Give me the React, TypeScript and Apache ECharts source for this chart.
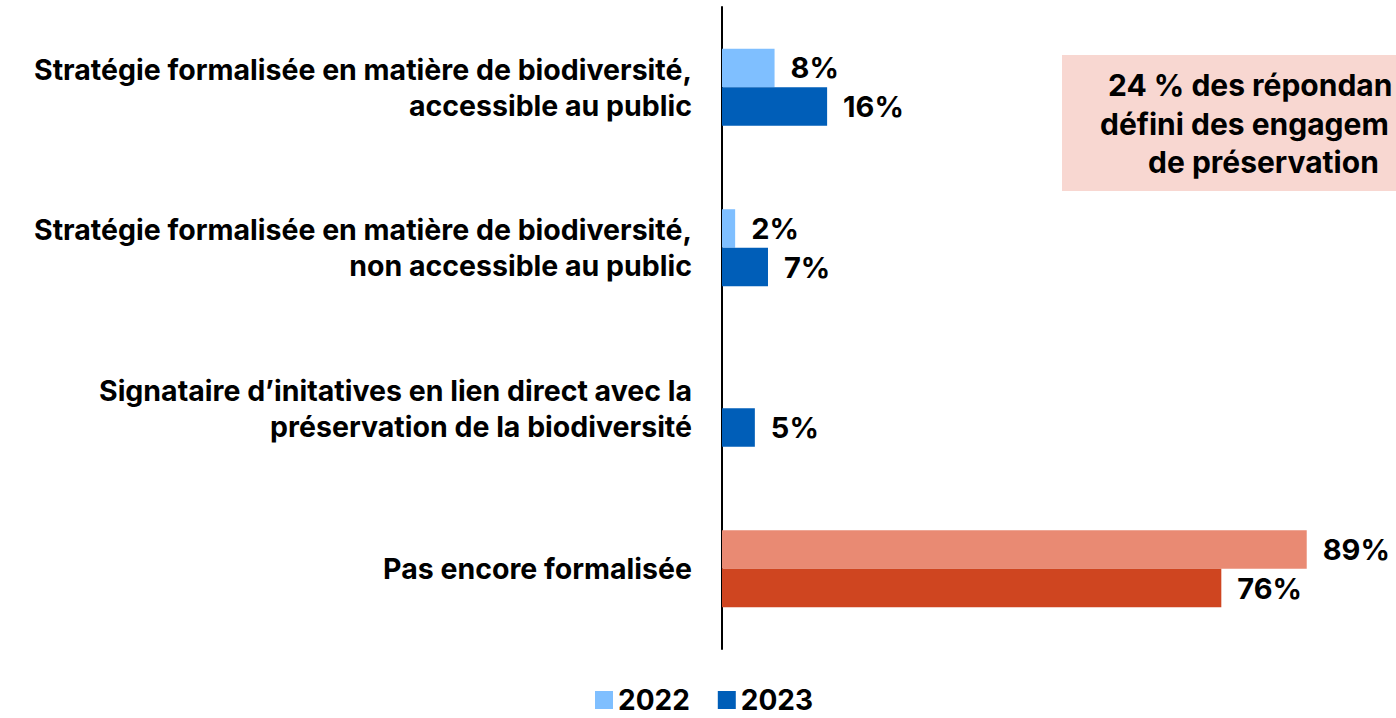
import React, { useEffect, useRef } from "react";
import * as echarts from "echarts";

const categories = [
  "Stratégie formalisée en matière de biodiversité,\naccessible au public",
  "Stratégie formalisée en matière de biodiversité,\nnon accessible au public",
  "Signataire d’initatives en lien direct avec la\npréservation de la biodiversité",
  "Pas encore formalisée",
];
const values2022: (number | null)[] = [8, 2, null, 89];
const values2023: number[] = [16, 7, 5, 76];
const seriesNames = ["2022", "2023"];
const calloutLines = ["24 % des répondan", "défini des engagem", "de préservation"];

const FONT = "Inter, 'Noto Sans', sans-serif";

export default function App() {
  const ref = useRef<HTMLDivElement>(null);
  useEffect(() => {
    document.body.style.margin = "0";
    if (!ref.current) return;
    const chart = echarts.init(ref.current, null, { renderer: "svg" });
    const label = {
      show: true,
      position: "right",
      distance: 16,
      formatter: "{c}%",
      color: "#000",
      fontSize: 29,
      fontWeight: "bold",
      fontFamily: FONT,
    };
    chart.setOption({
      animation: false,
      textStyle: { fontFamily: FONT },
      grid: { left: 722, top: 7, width: 657, height: 642 },
      xAxis: {
        type: "value",
        min: 0,
        max: 100,
        show: false,
        splitLine: { show: false },
      },
      yAxis: {
        type: "category",
        data: categories,
        inverse: true,
        axisLine: { show: true, lineStyle: { color: "#000", width: 2 } },
        axisTick: { show: false },
        axisLabel: {
          margin: 30,
          color: "#000",
          fontSize: 28.5,
          fontWeight: "bold",
          fontFamily: FONT,
          lineHeight: 36,
          align: "right",
        },
      },
      legend: {
        data: seriesNames,
        left: 595,
        top: 686,
        padding: 0,
        itemWidth: 18,
        itemHeight: 18,
        itemGap: 28,
        icon: "rect",
        textStyle: { fontSize: 28, lineHeight: 28, fontWeight: "bold", color: "#000", fontFamily: FONT },
      },
      series: [
        {
          name: seriesNames[0],
          type: "bar",
          barGap: "0%",
          barCategoryGap: "52%",
          itemStyle: { color: "#7FBFFF" },
          label,
          data: values2022.map((v, i) =>
            i === 3 ? { value: v, itemStyle: { color: "#E98A73" } } : v
          ),
        },
        {
          name: seriesNames[1],
          type: "bar",
          barGap: "0%",
          barCategoryGap: "52%",
          itemStyle: { color: "#005EB8" },
          label,
          data: values2023.map((v, i) =>
            i === 3 ? { value: v, itemStyle: { color: "#CF4520" } } : v
          ),
        },
      ],
      graphic: [
        {
          type: "rect",
          shape: { x: 1062, y: 55, width: 334, height: 136 },
          style: { fill: "#F8D7D1" },
          silent: true,
        },
        ...calloutLines.map((t, i) => ({
          type: "text",
          x: [1108, 1100, 1148][i],
          y: [85, 124, 162][i],
          style: {
            text: t,
            fontSize: 30,
            fontWeight: "bold",
            fontFamily: FONT,
            fill: "#000",
            verticalAlign: "middle",
          },
        })),
      ],
    });
    return () => chart.dispose();
  }, []);
  return <div ref={ref} style={{ width: 1396, height: 718 }} />;
}
